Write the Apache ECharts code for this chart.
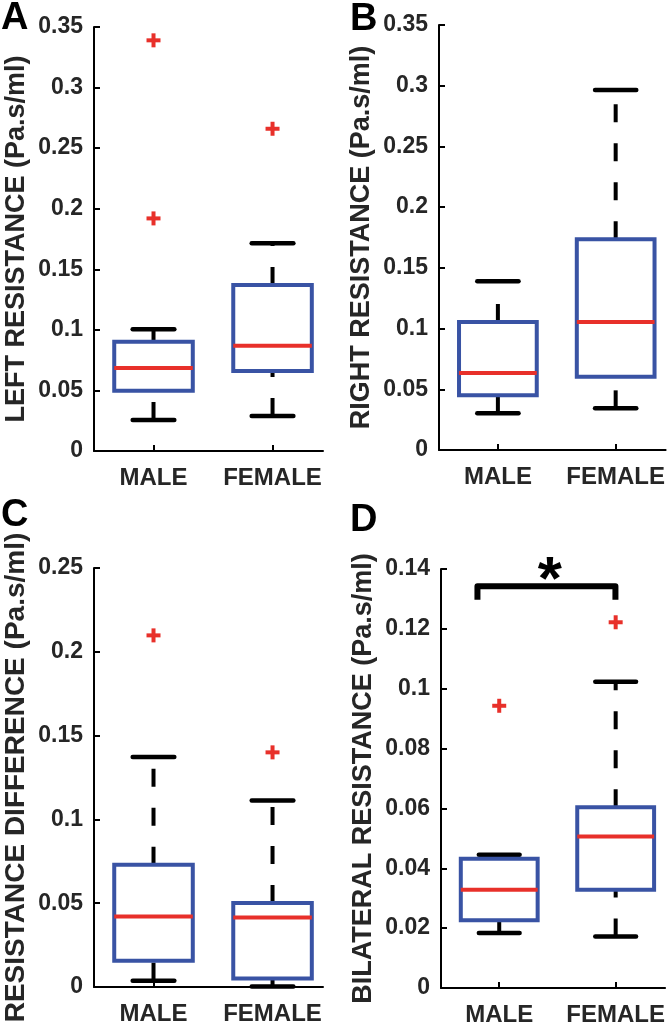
<!DOCTYPE html>
<html><head><meta charset="utf-8">
<script src="https://cdn.jsdelivr.net/npm/echarts@6/dist/echarts.min.js"></script>
<style>html,body{margin:0;padding:0;background:#fff}#c{width:668px;height:1028px}</style>
</head><body><div id="c"></div>
<script>
// ---- data ----
const categories = ['MALE', 'FEMALE'];
// each box: [lowerWhisker, q1, median, q3, upperWhisker]
const leftBoxes = [[0.0256, 0.0498, 0.0685, 0.0902, 0.1004], [0.0289, 0.066, 0.0869, 0.137, 0.1714]];
const leftOutliers = [[1, 0.339], [1, 0.192], [2, 0.266]];
const rightBoxes = [[0.0302, 0.045, 0.0634, 0.1054, 0.139], [0.0343, 0.0604, 0.1054, 0.1735, 0.2965]];
const rightOutliers = [];
const diffBoxes = [[0.0038, 0.0157, 0.0421, 0.073, 0.1372], [0.0003, 0.005, 0.0415, 0.0501, 0.1113]];
const diffOutliers = [[1, 0.2098], [2, 0.14]];
const bilatBoxes = [[0.0184, 0.0226, 0.0328, 0.0432, 0.0445], [0.0172, 0.0328, 0.0506, 0.0604, 0.1023]];
const bilatOutliers = [[1, 0.0943], [2, 0.1222]];
// y tick values
const leftTicks = [0, 0.05, 0.1, 0.15, 0.2, 0.25, 0.3, 0.35];
const rightTicks = [0, 0.05, 0.1, 0.15, 0.2, 0.25, 0.3, 0.35];
const diffTicks = [0, 0.05, 0.1, 0.15, 0.2, 0.25];
const bilatTicks = [0, 0.02, 0.04, 0.06, 0.08, 0.1, 0.12, 0.14];
const yTitles = ['LEFT RESISTANCE (Pa.s/ml)', 'RIGHT RESISTANCE (Pa.s/ml)', 'RESISTANCE DIFFERENCE (Pa.s/ml)', 'BILATERAL RESISTANCE (Pa.s/ml)'];
const panelLetters = ['A', 'B', 'C', 'D'];
// significance bracket in panel D: [xLeft, xRight, yTop, yBottom]
const sigBracket = [0.813, 1.998, 0.1342, 0.1297];
const sigStar = [1.435, 0.1357, '*'];

// ---- style ----
const BLUE = '#3953a4', RED = '#e8302a', TXT = '#262626';
const FONT = '"Liberation Sans", Arial, sans-serif';

const grids = [
  {left: 94, top: 27, width: 229, height: 424},
  {left: 439, top: 25, width: 229, height: 425},
  {left: 94, top: 568, width: 229, height: 419},
  {left: 441, top: 569, width: 229, height: 419}
];
const tickSets = [leftTicks, rightTicks, diffTicks, bilatTicks];
const boxSets = [leftBoxes, rightBoxes, diffBoxes, bilatBoxes];
const outSets = [leftOutliers, rightOutliers, diffOutliers, bilatOutliers];
const titleSizes = [27, 27, 28, 27];
const nameGaps = [64, 64, 64, 64];

function boxRender(params, api) {
  const x = api.value(0);
  const wl = api.value(1), q1 = api.value(2), med = api.value(3), q3 = api.value(4), wh = api.value(5);
  const c = (xx, yy) => api.coord([xx, yy]);
  const hw = 0.33, cw = 0.175;
  const pWL = c(x, wl), pQ1 = c(x, q1), pQ3 = c(x, q3), pWH = c(x, wh);
  const tl = c(x - hw, q3), br = c(x + hw, q1);
  const mL = c(x - hw, med), mR = c(x + hw, med);
  const wStyle = {stroke: '#000', lineWidth: 4, lineDash: [18, 21], lineCap: 'butt'};
  const capStyle = {stroke: '#000', lineWidth: 4.5, lineCap: 'round'};
  const cl = c(x - cw, wl), cr = c(x + cw, wl), ul = c(x - cw, wh), ur = c(x + cw, wh);
  return {
    type: 'group',
    children: [
      {type: 'line', shape: {x1: pWL[0], y1: pWL[1], x2: pQ1[0], y2: pQ1[1]}, style: wStyle},
      {type: 'line', shape: {x1: pQ3[0], y1: pQ3[1], x2: pWH[0], y2: pWH[1]}, style: wStyle},
      {type: 'line', shape: {x1: cl[0], y1: cl[1], x2: cr[0], y2: cr[1]}, style: capStyle},
      {type: 'line', shape: {x1: ul[0], y1: ul[1], x2: ur[0], y2: ur[1]}, style: capStyle},
      {type: 'rect', shape: {x: tl[0], y: tl[1], width: br[0] - tl[0], height: br[1] - tl[1]},
        style: {fill: 'none', stroke: BLUE, lineWidth: 4}},
      {type: 'line', shape: {x1: mL[0], y1: mL[1], x2: mR[0], y2: mR[1]}, style: {stroke: RED, lineWidth: 4}}
    ]
  };
}
function plusRender(params, api) {
  const p = api.coord([api.value(0), api.value(1)]);
  const s = 7;
  const st = {stroke: RED, lineWidth: 4};
  return {type: 'group', children: [
    {type: 'line', shape: {x1: p[0] - s, y1: p[1], x2: p[0] + s, y2: p[1]}, style: st},
    {type: 'line', shape: {x1: p[0], y1: p[1] - s, x2: p[0], y2: p[1] + s}, style: st}
  ]};
}
function bracketRender(params, api) {
  const a = api.coord([api.value(0), api.value(3)]);
  const b = api.coord([api.value(0), api.value(2)]);
  const d = api.coord([api.value(1), api.value(2)]);
  const e = api.coord([api.value(1), api.value(3)]);
  return {type: 'polyline', shape: {points: [a, b, d, e]},
    style: {stroke: '#000', lineWidth: 6, lineJoin: 'round', fill: 'none'}};
}
function starRender(params, api) {
  const p = api.coord([api.value(0), api.value(1)]);
  return {type: 'text', x: p[0], y: p[1],
    style: {text: sigStar[2], fill: '#000', font: 'bold 62px ' + FONT, align: 'center', verticalAlign: 'middle'}};
}

const xAxes = [], yAxes = [], series = [];
grids.forEach((g, i) => {
  xAxes.push({
    gridIndex: i, type: 'value', min: 0.5, max: 2.424,
    axisLine: {show: true, lineStyle: {color: '#000', width: 2}},
    axisTick: {show: true, inside: true, length: 6, lineStyle: {color: '#000', width: 2}, customValues: [1, 2]},
    axisLabel: {customValues: [1, 2], formatter: v => categories[Math.round(v) - 1] || '',
      color: TXT, fontWeight: 'bold', fontSize: 24, fontFamily: FONT, margin: 15},
    splitLine: {show: false}
  });
  const t = tickSets[i];
  yAxes.push({
    gridIndex: i, type: 'value', min: t[0], max: t[t.length - 1], interval: t[1] - t[0],
    name: yTitles[i], nameLocation: 'middle', nameGap: nameGaps[i],
    nameTextStyle: {color: TXT, fontWeight: 'bold', fontSize: titleSizes[i], fontFamily: FONT},
    axisLine: {show: true, lineStyle: {color: '#000', width: 2}},
    axisTick: {show: true, inside: true, length: 6, lineStyle: {color: '#000', width: 2}},
    axisLabel: {color: TXT, fontWeight: 'bold', fontSize: 23, fontFamily: FONT, margin: 11,
      formatter: v => String(+v.toFixed(4))},
    splitLine: {show: false}
  });
  series.push({
    type: 'custom', xAxisIndex: i, yAxisIndex: i, renderItem: boxRender, clip: false,
    encode: {x: 0, y: [1, 2, 3, 4, 5]},
    data: boxSets[i].map((b, k) => [k + 1].concat(b))
  });
  if (outSets[i].length) {
    series.push({
      type: 'custom', xAxisIndex: i, yAxisIndex: i, renderItem: plusRender, clip: false,
      encode: {x: 0, y: 1}, data: outSets[i]
    });
  }
});
series.push({type: 'custom', xAxisIndex: 3, yAxisIndex: 3, renderItem: bracketRender, clip: false,
  encode: {x: [0, 1], y: [2, 3]}, data: [sigBracket]});
series.push({type: 'custom', xAxisIndex: 3, yAxisIndex: 3, renderItem: starRender, clip: false,
  encode: {x: 0, y: 1}, data: [[sigStar[0], sigStar[1]]]});

const letterPos = [[1, 0], [350, 1], [1, 497], [350, 502]];
const graphic = panelLetters.map((L, i) => ({
  type: 'text', left: letterPos[i][0], top: letterPos[i][1],
  style: {text: L, fill: '#000', font: 'bold 38px ' + FONT}
}));

const chart = echarts.init(document.getElementById('c'), null, {renderer: 'canvas'});
chart.setOption({
  animation: false,
  backgroundColor: '#fff',
  grid: grids,
  xAxis: xAxes,
  yAxis: yAxes,
  series: series,
  graphic: graphic
});
</script></body></html>
